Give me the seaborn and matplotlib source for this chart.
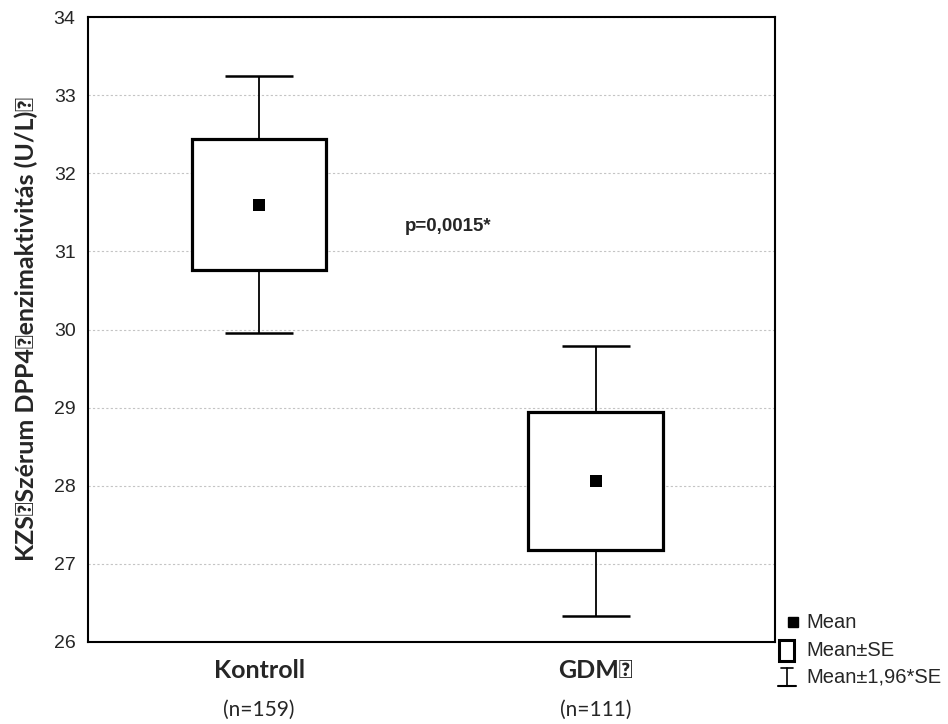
import numpy as np
import matplotlib
matplotlib.use("Agg")
import matplotlib.pyplot as plt
import seaborn as sns
from matplotlib.patches import Rectangle
from matplotlib.lines import Line2D

groups = ["Kontroll", "GDM\u2370"]
n_labels = ["(n=159)", "(n=111)"]
means = np.array([31.6, 28.06])
se = np.array([0.84, 0.88])
ylabel = "KZS\u2370Szérum DPP4\u2370enzimaktivitás (U/L)\u2370"
p_text = "p=0,0015*"

sns.set_style("white")
plt.rcParams['font.family'] = ['Liberation Sans', 'DejaVu Sans']

fig = plt.figure(figsize=(9.48, 7.24), dpi=100)
ax = fig.add_axes([88 / 948, 1 - 642 / 724, (775 - 88) / 948, (642 - 17) / 724])

# Mean±SE boxes
ax.bar(groups, 2 * se, bottom=means - se, width=0.40, facecolor='white',
       edgecolor='black', linewidth=2.3, zorder=3)

# Mean±1,96*SE whiskers
lo = means - 1.96 * se
hi = means + 1.96 * se
xpos = np.arange(len(groups))
ax.vlines(xpos, means + se, hi, color='black', linewidth=1.3, zorder=2)
ax.vlines(xpos, lo, means - se, color='black', linewidth=1.3, zorder=2)
ax.hlines(hi, xpos - 0.1, xpos + 0.1, color='black', linewidth=1.8, zorder=2)
ax.hlines(lo, xpos - 0.1, xpos + 0.1, color='black', linewidth=1.8, zorder=2)

# means
sns.scatterplot(x=groups, y=means, marker='s', color='black', s=70,
                edgecolor='black', linewidth=0, zorder=4, ax=ax, legend=False)

ax.set_ylim(26, 34)
ax.set_xlim(-0.508, 1.532)
ax.set_yticks(range(26, 35))
ax.tick_params(axis='y', labelsize=14, length=0, pad=9)
ax.tick_params(axis='x', length=0, pad=12)
ax.set_xticks(xpos)
ax.set_xticklabels(groups, fontsize=18, fontweight='bold', family=['Lato', 'DejaVu Sans'])
for x, lab in zip(xpos, n_labels):
    ax.text(x, -0.109, lab, transform=ax.get_xaxis_transform(), ha='center',
            va='center', fontsize=15, family=['Lato', 'DejaVu Sans'])

ax.yaxis.grid(True, linestyle=(0, (2, 2)), color='#c4c4c4', linewidth=0.8, zorder=0)
ax.xaxis.grid(False)
for s in ax.spines.values():
    s.set_color('black')
    s.set_linewidth(1.5)

ax.set_ylabel(ylabel, fontsize=18, fontweight='bold', family=['Lato', 'DejaVu Sans'], labelpad=11)
ax.text(0.562, 31.32, p_text, ha='center', va='center', fontsize=13.5, fontweight='bold')

# legend drawn in figure coordinates
W, H = 948, 724
fig.patches.append(Rectangle((788 / W, 1 - 627 / H), 10 / W, 10 / H, transform=fig.transFigure,
                             facecolor='black', edgecolor='black'))
fig.text(806 / W, 1 - 622 / H, "Mean", fontsize=14.5, va='center')
fig.patches.append(Rectangle((779 / W, 1 - 661 / H), 15 / W, 21 / H, transform=fig.transFigure,
                             facecolor='white', edgecolor='black', linewidth=2.2))
fig.text(806 / W, 1 - 651 / H, "Mean±SE", fontsize=14.5, va='center')
fig.lines.append(Line2D([787 / W, 787 / W], [1 - 668 / H, 1 - 686 / H], transform=fig.transFigure,
                        color='black', linewidth=1.2))
fig.lines.append(Line2D([781 / W, 793 / W], [1 - 668 / H, 1 - 668 / H], transform=fig.transFigure,
                        color='black', linewidth=1.2))
fig.lines.append(Line2D([778 / W, 796 / W], [1 - 686 / H, 1 - 686 / H], transform=fig.transFigure,
                        color='black', linewidth=1.5))
fig.text(806 / W, 1 - 677 / H, "Mean±1,96*SE", fontsize=14.5, va='center')

fig.savefig("out.png", dpi=100)
